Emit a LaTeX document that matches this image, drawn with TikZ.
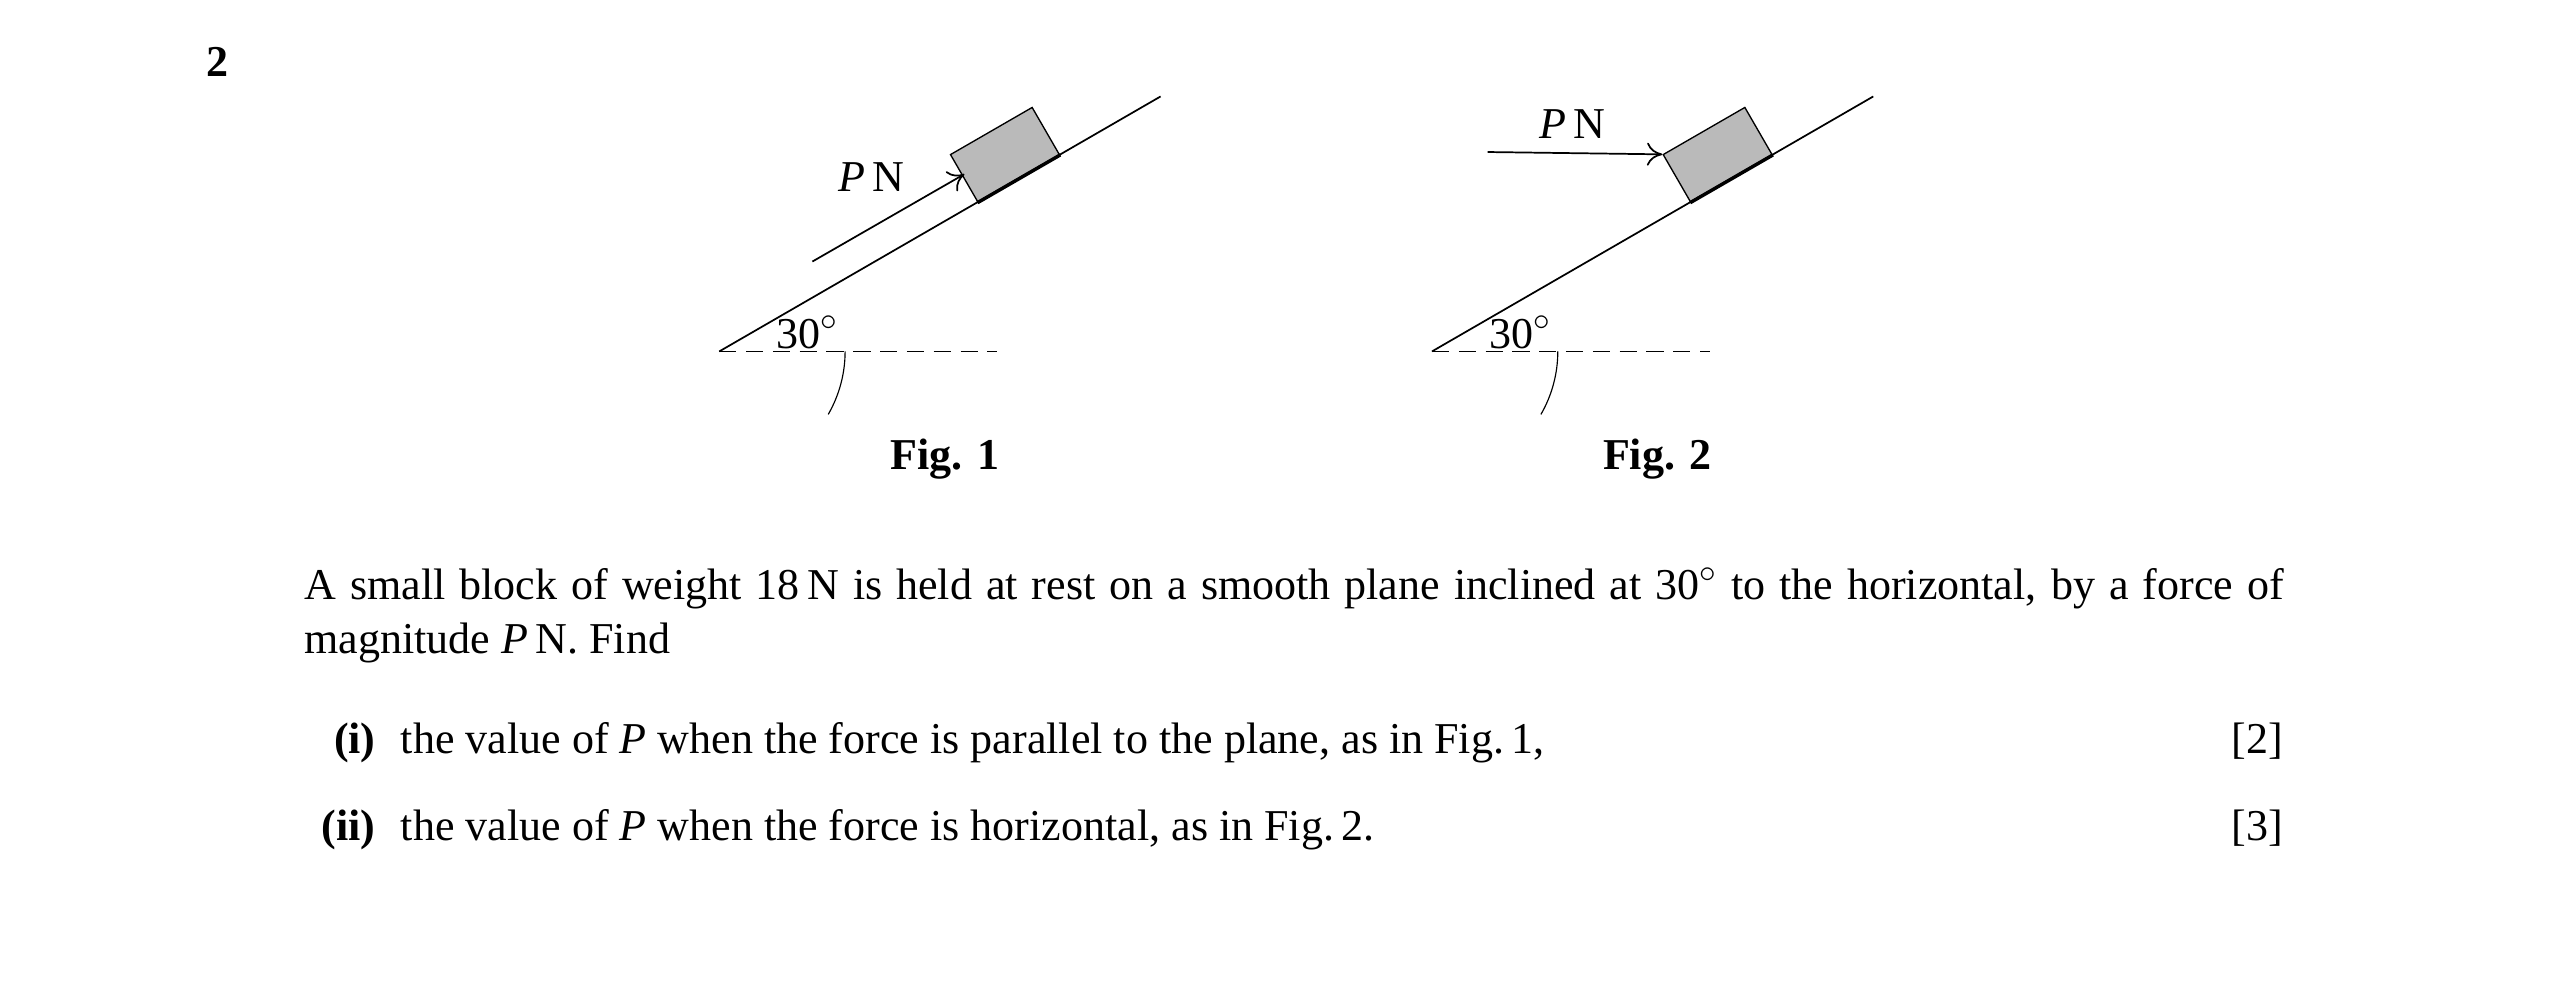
\documentclass[tikz,border=0pt]{standalone}
\usepackage{fontspec}
\setmainfont{Liberation Serif}
\usetikzlibrary{positioning,arrows.meta}
\begin{document}
\begin{tikzpicture}[x=0.03cm,y=-0.03cm,
    plane/.style={line width=0.9pt},
    block/.style={draw, fill=black!27, line width=0.7pt, minimum width=1.73cm, minimum height=1.0cm, rotate=30, anchor=south west, inner sep=0pt},
    force/.style={-{To[length=8pt,width=12pt]}, line width=0.9pt},
    dashed line/.style={dash pattern=on 9pt off 5pt, line width=0.7pt},
    txt/.style={font=\fontsize{23}{28}\selectfont, inner sep=0pt}
  ]
    \useasboundingbox (0,0) rectangle (1560,614);
    \node[txt, font=\fontsize{23}{28}\selectfont\bfseries, anchor=base west] (num) at (126,47) {2};

    % Fig. 1
    \coordinate (base1) at (440,215);
    \coordinate (top1) at (710,59);
    \coordinate (foot1) at (598,124);
    \draw[plane] (base1) -- (top1);
    \draw[dashed line] (base1) -- (610,215);
    \draw[line width=0.6pt] (517,215) arc (0:30:77);
    \node[txt, anchor=base] (ang1) at (494,213) {30$^\circ$};
    \node[block] (blk1) at (foot1) {};
    \draw[line width=1.8pt] (blk1.south west) -- (blk1.south east);
    \coordinate (tail1) at (497,160);
    \draw[force] (tail1) -- (590,106.5);
    \node[txt, anchor=base] (lab1) at (533,117) {\textit{P}\,N};
    \node[txt, font=\fontsize{23}{28}\selectfont\bfseries, anchor=base] (fig1) at (578,287) {Fig. 1};

    % Fig. 2
    \coordinate (base2) at (876,215);
    \coordinate (top2) at (1146,59);
    \coordinate (foot2) at (1034,124);
    \draw[plane] (base2) -- (top2);
    \draw[dashed line] (base2) -- (1046,215);
    \draw[line width=0.6pt] (953,215) arc (0:30:77);
    \node[txt, anchor=base] (ang2) at (930,213) {30$^\circ$};
    \node[block] (blk2) at (foot2) {};
    \draw[line width=1.8pt] (blk2.south west) -- (blk2.south east);
    \coordinate (tail2) at (910,93);
    \draw[force] (tail2) -- (blk2.north west);
    \node[txt, anchor=base] (lab2) at (962,85) {\textit{P}\,N};
    \node[txt, font=\fontsize{23}{28}\selectfont\bfseries, anchor=base] (fig2) at (1014,287) {Fig. 2};

    % question text
    \node[txt, anchor=north west, text width=36.33cm, align=justify] (intro) at (186,347)
      {A small block of weight 18\,N is held at rest on a smooth plane inclined at 30$^\circ$ to the horizontal, by a force of magnitude \textit{P}\,N. Find};
    \node[txt, anchor=base east, font=\fontsize{23}{28}\selectfont\bfseries] (pi) at (230,461) {(i)};
    \node[txt, anchor=base west] (qi) at (245,461) {the value of \textit{P} when the force is parallel to the plane, as in Fig.\,1,};
    \node[txt, anchor=base east] (mi) at (1397,461) {[2]};
    \node[txt, anchor=base east, font=\fontsize{23}{28}\selectfont\bfseries] (pii) at (230,514) {(ii)};
    \node[txt, anchor=base west] (qii) at (245,514) {the value of \textit{P} when the force is horizontal, as in Fig.\,2.};
    \node[txt, anchor=base east] (mii) at (1397,514) {[3]};
  \end{tikzpicture}
\end{document}
